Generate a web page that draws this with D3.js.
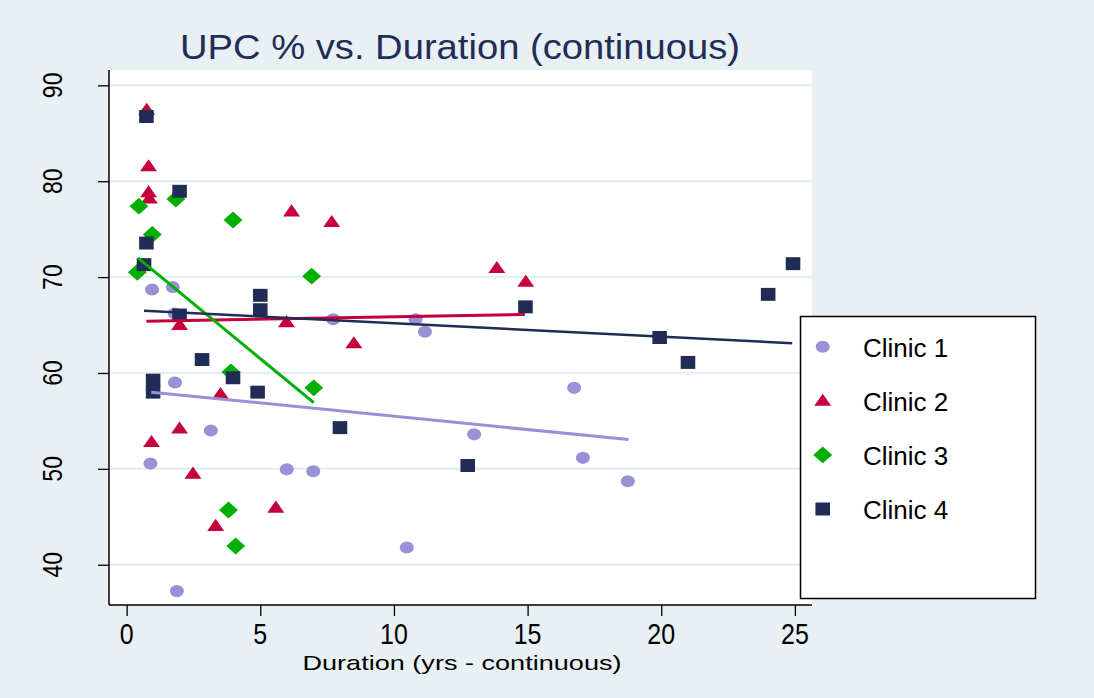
<!DOCTYPE html>
<html>
<head>
<meta charset="utf-8">
<script src="https://cdn.jsdelivr.net/npm/d3@7"></script>
<style>
body { margin: 0; background: #e8f0f3; }
svg { display: block; font-family: "Liberation Sans", Arial, sans-serif; }
</style>
</head>
<body>
<div id="chart"></div>
<script>
// data
var clinics = ['Clinic 1', 'Clinic 2', 'Clinic 3', 'Clinic 4'];

var c1x = [0.95, 1.73, 1.8, 7.73, 10.81, 11.16, 1.81, 3.15, 0.89, 5.99, 6.98, 1.88, 16.74, 13.0, 17.07, 18.75, 10.48],
    c1y = [68.7, 68.95, 66.2, 65.6, 65.6, 64.3, 59.0, 54.0, 50.55, 49.95, 49.75, 37.25, 58.45, 53.6, 51.15, 48.7, 41.8];

var c2x = [0.75, 0.82, 0.82, 0.85, 6.17, 7.67, 1.98, 5.98, 8.5, 3.51, 1.98, 0.93, 2.48, 5.58, 3.33, 13.85, 14.93],
    c2y = [87.35, 81.45, 78.75, 78.1, 76.75, 75.65, 64.9, 65.2, 63.0, 57.7, 54.1, 52.7, 49.4, 45.85, 43.95, 70.85, 69.4];

var c3x = [0.46, 1.84, 3.98, 0.96, 0.4, 6.92, 3.9, 7.0, 3.81, 4.08],
    c3y = [77.4, 78.15, 75.95, 74.45, 70.5, 70.1, 60.1, 58.45, 45.7, 41.95];

var c4x = [0.74, 1.98, 0.74, 0.65, 5.0, 5.0, 1.98, 2.82, 3.98, 0.99, 0.99, 4.9, 7.98, 14.92, 24.93, 24.0, 19.94, 21.0, 12.76],
    c4y = [86.75, 78.95, 73.55, 71.3, 68.1, 66.6, 66.05, 61.4, 59.5, 59.25, 58.0, 58.0, 54.3, 66.9, 71.4, 68.2, 63.7, 61.1, 50.35];

// linear fit end points, one per clinic
var fitFromX = [0.92, 0.74, 0.42, 0.65],
    fitFromY = [58.0, 65.4, 72.0, 66.5],
    fitToX = [18.78, 14.9, 7.0, 24.9],
    fitToY = [53.05, 66.1, 56.9, 63.1];

var xTicks = [0, 5, 10, 15, 20, 25],
    yTicks = [40, 50, 60, 70, 80, 90];

var colors = ['#9891d5', '#c5003b', '#00b000', '#1f2c55'];

var W = 1094, H = 698;
var plot = { left: 109, right: 812, top: 70, bottom: 605 };

var xScale = d3.scaleLinear().domain([-0.66, 25.64]).range([plot.left, plot.right]),
    yScale = d3.scaleLinear().domain([35.8, 91.6]).range([plot.bottom, plot.top]);

var svg = d3.select('#chart').append('svg')
    .attr('width', W)
    .attr('height', H);

svg.append('rect').attr('width', W).attr('height', H).attr('fill', '#e8f0f3');

svg.append('rect')
    .attr('x', plot.left).attr('y', plot.top)
    .attr('width', plot.right - plot.left)
    .attr('height', plot.bottom - plot.top)
    .attr('fill', '#fff');

// grid
svg.append('g').selectAll('line')
    .data(yTicks)
    .enter().append('line')
    .attr('x1', plot.left).attr('x2', plot.right)
    .attr('y1', function(d) { return yScale(d) })
    .attr('y2', function(d) { return yScale(d) })
    .attr('stroke', '#e6eef1')
    .attr('stroke-width', 2.5);

// axes
var xAxis = d3.axisBottom(xScale).tickValues(xTicks).tickSize(11).tickFormat('');
var yAxis = d3.axisLeft(yScale).tickValues(yTicks).tickSize(11).tickFormat('');

var gx = svg.append('g').attr('transform', 'translate(0,' + plot.bottom + ')').call(xAxis);
var gy = svg.append('g').attr('transform', 'translate(' + plot.left + ',0)').call(yAxis);
gx.select('.domain').attr('d', 'M' + plot.left + ',0H' + plot.right).attr('stroke', '#000').attr('stroke-width', 1.5);
gy.select('.domain').attr('d', 'M0,' + plot.top + 'V' + plot.bottom).attr('stroke', '#000').attr('stroke-width', 1.5);
svg.selectAll('.tick line').attr('stroke', '#000').attr('stroke-width', 1.3);

// tick labels (narrow, tall glyphs)
svg.append('g').selectAll('text')
    .data(xTicks)
    .enter().append('text')
    .attr('transform', function(d) { return 'translate(' + xScale(d) + ',644) scale(1,1.2)' })
    .attr('text-anchor', 'middle')
    .style('font-size', '25px')
    .text(function(d) { return d });

svg.append('g').selectAll('text')
    .data(yTicks)
    .enter().append('text')
    .attr('transform', function(d) { return 'translate(62,' + yScale(d) + ') rotate(-90) scale(1,1.2)' })
    .attr('text-anchor', 'middle')
    .style('font-size', '23px')
    .text(function(d) { return d });

// axis title
svg.append('text')
    .attr('x', 302.5).attr('y', 670)
    .attr('textLength', 319)
    .attr('lengthAdjust', 'spacingAndGlyphs')
    .style('font-size', '21px')
    .text('Duration (yrs - continuous)');

// title
svg.append('text')
    .attr('x', 180).attr('y', 58.5)
    .attr('textLength', 560)
    .attr('lengthAdjust', 'spacingAndGlyphs')
    .style('font-size', '35px')
    .attr('fill', '#1f2d57')
    .text('UPC % vs. Duration (continuous)');

// marker shapes
var shapes = [
    { type: d3.symbolCircle, size: 133, sx: 1.08, sy: 0.93, rot: 0 },
    { type: d3.symbolTriangle, size: 125, sx: 1, sy: 0.82, rot: 0 },
    { type: d3.symbolSquare, size: 169, sx: 1.03, sy: 0.92, rot: 45 },
    { type: d3.symbolSquare, size: 182, sx: 1.08, sy: 0.96, rot: 0 }
];

function markerTransform(k, px, py) {
    var s = shapes[k];
    return 'translate(' + px + ',' + py + ') scale(' + s.sx + ',' + s.sy + ') rotate(' + s.rot + ')';
}

var series = [[c1x, c1y], [c2x, c2y], [c3x, c3y], [c4x, c4y]];

series.forEach(function(sr, k) {
    var pts = sr[0].map(function(x, i) { return { x: x, y: sr[1][i] } });
    svg.append('g').selectAll('path')
        .data(pts)
        .enter().append('path')
        .attr('d', d3.symbol().type(shapes[k].type).size(shapes[k].size))
        .attr('transform', function(d) { return markerTransform(k, xScale(d.x), yScale(d.y)) })
        .attr('fill', colors[k]);
});

// fit lines
clinics.forEach(function(c, k) {
    svg.append('line')
        .attr('x1', xScale(fitFromX[k])).attr('y1', yScale(fitFromY[k]))
        .attr('x2', xScale(fitToX[k])).attr('y2', yScale(fitToY[k]))
        .attr('stroke', colors[k])
        .attr('stroke-width', k == 3 ? 2.5 : 3);
});

// legend
var legend = svg.append('g');
legend.append('rect')
    .attr('x', 800.5).attr('y', 316.5)
    .attr('width', 235).attr('height', 282)
    .attr('fill', '#fff')
    .attr('stroke', '#000')
    .attr('stroke-width', 1.5);

var legendY = d3.scalePoint().domain(clinics).range([346.7, 509]);

clinics.forEach(function(c, k) {
    legend.append('path')
        .attr('d', d3.symbol().type(shapes[k].type).size(shapes[k].size))
        .attr('transform', markerTransform(k, 822.7, legendY(c) + (k == 1 ? 1 : 0)))
        .attr('fill', colors[k]);
    legend.append('text')
        .attr('x', 863).attr('y', legendY(c) + 10)
        .style('font-size', '26px')
        .text(c);
});
</script>
</body>
</html>
